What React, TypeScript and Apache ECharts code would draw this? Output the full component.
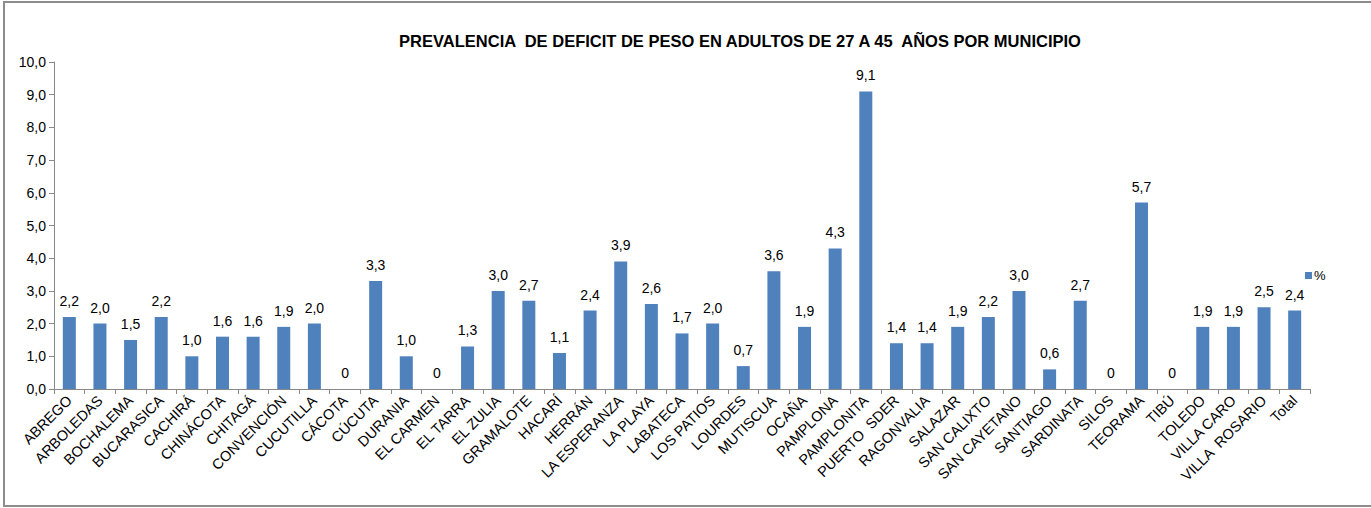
import React, { useEffect, useRef } from "react";
import * as echarts from "echarts";

const categories = [
  "ABREGO", "ARBOLEDAS", "BOCHALEMA", "BUCARASICA", "CACHIRÁ", "CHINÁCOTA", "CHITAGÁ",
  "CONVENCIÓN", "CUCUTILLA", "CÁCOTA", "CÚCUTA", "DURANIA", "EL CARMEN", "EL TARRA",
  "EL ZULIA", "GRAMALOTE", "HACARÍ", "HERRÁN", "LA ESPERANZA", "LA PLAYA", "LABATECA",
  "LOS PATIOS", "LOURDES", "MUTISCUA", "OCAÑA", "PAMPLONA", "PAMPLONITA", "PUERTO  SDER",
  "RAGONVALIA", "SALAZAR", "SAN CALIXTO", "SAN CAYETANO", "SANTIAGO", "SARDINATA", "SILOS",
  "TEORAMA", "TIBÚ", "TOLEDO", "VILLA CARO", "VILLA  ROSARIO", "Total",
];

const values = [
  2.2, 2.0, 1.5, 2.2, 1.0, 1.6, 1.6, 1.9, 2.0, 0, 3.3, 1.0, 0, 1.3, 3.0, 2.7, 1.1, 2.4,
  3.9, 2.6, 1.7, 2.0, 0.7, 3.6, 1.9, 4.3, 9.1, 1.4, 1.4, 1.9, 2.2, 3.0, 0.6, 2.7, 0, 5.7,
  0, 1.9, 1.9, 2.5, 2.4,
];

const seriesName = "%";
const titleText = "PREVALENCIA  DE DEFICIT DE PESO EN ADULTOS DE 27 A 45  AÑOS POR MUNICIPIO";

const fmt = (v: number) => (v === 0 ? "0" : v.toFixed(1).replace(".", ","));

export default function App() {
  const ref = useRef<HTMLDivElement>(null);
  useEffect(() => {
    document.body.style.margin = "0";
    const chart = echarts.init(ref.current!, null, { renderer: "svg" });
    const font = "'Liberation Sans', Arial, sans-serif";
    chart.setOption({
      animation: false,
      textStyle: { fontFamily: font },
      graphic: [
        {
          type: "rect",
          shape: { x: 4, y: 2, width: 1400, height: 504 },
          style: { fill: "none", stroke: "#8c8c8c", lineWidth: 2 },
          silent: true,
        },
      ],
      title: {
        text: titleText,
        left: 735,
        textAlign: "center",
        top: 27,
        textStyle: { fontSize: 16.5, fontWeight: "bold", color: "#000", fontFamily: font },
      },
      legend: {
        data: [seriesName],
        left: 1300,
        top: 264,
        itemWidth: 7,
        itemHeight: 7,
        icon: "rect",
        itemGap: 4,
        textStyle: { fontSize: 13, color: "#000", fontFamily: font, padding: [0, 0, 0, -3] },
      },
      grid: { left: 54, right: 61, top: 62, bottom: 119, containLabel: false },
      xAxis: {
        type: "category",
        data: categories,
        axisLine: { lineStyle: { color: "#888", width: 1 } },
        axisTick: { show: true, length: 5, lineStyle: { color: "#888" } },
        axisLabel: {
          rotate: 45,
          interval: 0,
          fontSize: 14.5,
          color: "#000",
          fontFamily: font,
          margin: 9,
        },
      },
      yAxis: {
        type: "value",
        min: 0,
        max: 10,
        interval: 1,
        splitLine: { show: false },
        axisLine: { show: true, lineStyle: { color: "#888" } },
        axisTick: { show: true, length: 5, lineStyle: { color: "#888" } },
        axisLabel: {
          fontSize: 14,
          color: "#000",
          fontFamily: font,
          margin: 8,
          formatter: (v: number) => v.toFixed(1).replace(".", ","),
        },
      },
      series: [
        {
          name: seriesName,
          type: "bar",
          data: values,
          barWidth: 13,
          itemStyle: { color: "#4f81bd" },
          label: {
            show: true,
            position: "top",
            distance: 9,
            fontSize: 14,
            color: "#000",
            fontFamily: font,
            formatter: (p: any) => fmt(p.value),
          },
        },
      ],
    });
    return () => chart.dispose();
  }, []);
  return <div ref={ref} style={{ width: 1371, height: 508 }} />;
}
